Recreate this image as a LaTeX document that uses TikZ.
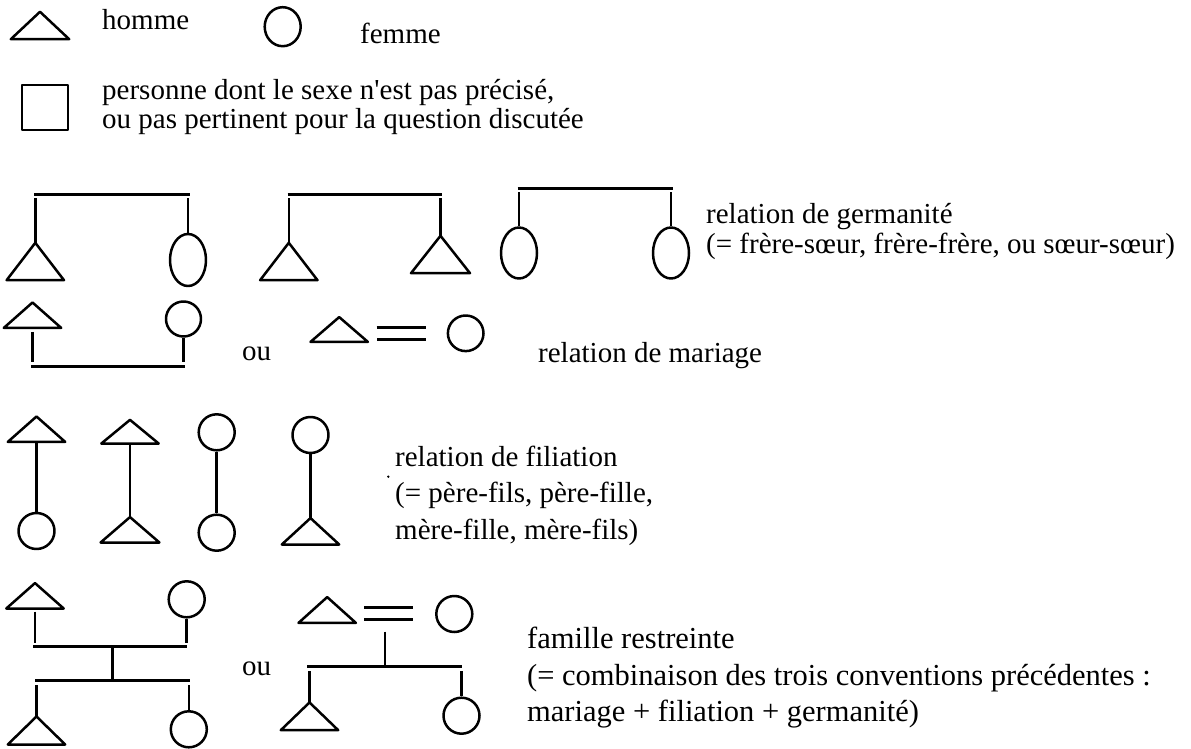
\documentclass[tikz,border=0pt]{standalone}
\usepackage{fontspec}
\newfontfamily\tnr{Liberation Serif}
\usetikzlibrary{shapes.geometric}
\tikzset{
  symline/.style={line width=2.5pt, line join=round},
  man/.style={rectangle, inner sep=0pt, minimum width=57pt, minimum height=26pt,
    append after command={\pgfextra{\let\mytn=\tikzlastnode
      \draw[symline] (\mytn.south west) -- (\mytn.north) -- (\mytn.south east) -- cycle;}}},
  woman/.style={circle, draw, symline, inner sep=0pt, minimum size=36pt},
  tallwoman/.style={ellipse, draw, symline, inner sep=0pt, minimum width=36pt, minimum height=51pt},
  link/.style={line width=2.6pt},
  bar/.style={line width=3pt},
  eq/.style={double, line width=2.6pt, double distance=9.4pt},
  lbl/.style={font=\tnr\fontsize{29}{34}\selectfont, inner sep=0pt, anchor=base west},
  biglbl/.style={lbl, font=\tnr\fontsize{30.5}{36}\selectfont}
}
\begin{document}
\begin{tikzpicture}[x=1pt,y=-1pt]
\useasboundingbox (0,0) rectangle (1191,749);
% legend
\node[man, minimum width=58pt, minimum height=27pt] (t0) at (40,25.5) {};
\node[lbl] (homme) at (102,30) {homme};
\node[ellipse, draw, symline, inner sep=0pt, minimum width=36pt, minimum height=39pt] (c0) at (282.7,26.7) {};
\node[lbl] (femme) at (360,44) {femme};
\node[rectangle, draw, symline, inner sep=0pt, minimum width=46pt, minimum height=45pt] (s0) at (45,107.5) {};
\node[lbl] (pers1) at (102,100) {personne dont le sexe n'est pas précisé,};
\node[lbl] (pers2) at (102,129) {ou pas pertinent pour la question discutée};

% germanite
\node[man, minimum height=37pt] (g1m) at (35.3,261.5) {};
\node[tallwoman, minimum height=52pt] (g1f) at (188,260) {};
\coordinate (g1l) at (34,194); \coordinate (g1r) at (189.5,194);
\draw[bar] (g1l) -- (g1r);
\draw[link, shorten >=4pt] (g1m.north) -- (g1m.north |- g1l);
\draw[link, shorten >=4pt] (g1f.north) -- (g1f.north |- g1l);

\node[man, minimum height=37pt] (g2a) at (288.8,261.5) {};
\node[man, minimum height=37pt, minimum width=58.6pt] (g2b) at (440.5,254.5) {};
\coordinate (g2l) at (287.5,194); \coordinate (g2r) at (442,194);
\draw[bar] (g2l) -- (g2r);
\draw[link, shorten >=4pt] (g2a.north) -- (g2a.north |- g2l);
\draw[link, shorten >=4pt] (g2b.north) -- (g2b.north |- g2l);

\node[tallwoman] (g3a) at (519,253) {};
\node[tallwoman] (g3b) at (671,253) {};
\coordinate (g3l) at (517.5,188); \coordinate (g3r) at (672.5,188);
\draw[bar] (g3l) -- (g3r);
\draw[link, shorten >=4pt] (g3a.north) -- (g3a.north |- g3l);
\draw[link, shorten >=4pt] (g3b.north) -- (g3b.north |- g3l);

\node[lbl] (germ1) at (706,223) {relation de germanité};
\node[lbl] (germ2) at (706,253) {(= frère-sœur, frère-frère, ou sœur-sœur)};

% mariage
\node[man, minimum height=25pt] (mm) at (32.5,315.2) {};
\node[woman, minimum size=35pt] (mf) at (183.5,319) {};
\coordinate (mbl) at (31,366); \coordinate (mbr) at (185,366);
\draw[bar] (mbl) -- (mbr);
\draw[link, shorten <=4pt, shorten >=4pt] (mm.south) -- (mm.south |- mbl);
\draw[link, shorten >=4pt] (mf.south) -- (mf.south |- mbr);
\node[lbl] (ou1) at (242,360) {ou};
\node[man, minimum height=24.4pt] (mm2) at (339.2,329.5) {};
\node[woman, minimum size=35.6pt] (mf2) at (465.7,333.3) {};
\coordinate (eql) at (376.7,333.3); \coordinate (eqr) at (425.7,333.3);
\draw[eq] (eql) -- (eqr);
\node[lbl] (mar) at (538,362) {relation de mariage};

% filiation
\node[man, minimum height=25pt] (fa1) at (36.5,429.2) {};
\node[woman] (fb1) at (36.5,531) {};
\draw[link] (fa1.south) -- (fb1.north);
\node[man, minimum height=23.3pt] (fa2) at (130,431.7) {};
\node[man, minimum height=25pt, minimum width=58.4pt] (fb2) at (130,529.8) {};
\draw[link] (fa2.south) -- (fb2.north);
\node[woman] (fa3) at (216.7,432.3) {};
\node[woman] (fb3) at (216.7,532.7) {};
\draw[link] (fa3.south) -- (fb3.north);
\node[woman] (fa4) at (310.5,435) {};
\node[man, minimum height=26pt] (fb4) at (310.5,531.3) {};
\draw[link] (fa4.south) -- (fb4.north);
\node[circle, fill, inner sep=0pt, minimum size=2.6pt] (dot) at (388.3,476.7) {};
\node[lbl] (fil1) at (395,466) {relation de filiation};
\node[lbl] (fil2) at (395,502) {(= père-fils, père-fille,};
\node[lbl] (fil3) at (395,539) {mère-fille, mère-fils)};

% famille (gauche)
\node[man, minimum height=25pt] (pa) at (35,595.8) {};
\node[woman] (ma) at (186.7,599.3) {};
\coordinate (tbl) at (33,646.7); \coordinate (tbr) at (186.5,646.7);
\draw[bar] (tbl) -- (tbr);
\draw[link, shorten <=3pt, shorten >=4pt] (pa.south) -- (pa.south |- tbl);
\draw[link, shorten >=4pt] (ma.south) -- (ma.south |- tbr);
\coordinate (mid1) at (112.7,646.7); \coordinate (mid2) at (112.7,680.7);
\draw[link] (mid1) -- (mid2);
\coordinate (bbl) at (35,680.7); \coordinate (bbr) at (190,680.7);
\draw[bar] (bbl) -- (bbr);
\node[man, minimum height=27.6pt] (ka) at (36.5,730.5) {};
\node[woman] (kb) at (188.8,729.3) {};
\draw[link, shorten >=4pt] (ka.north) -- (ka.north |- bbl);
\draw[link, shorten >=4pt] (kb.north) -- (kb.north |- bbr);
\node[lbl] (ou2) at (242,675) {ou};

% famille (droite)
\node[man, minimum height=25.4pt] (pb) at (327.2,610) {};
\node[woman] (mb) at (454.3,614) {};
\coordinate (eq2l) at (364,613.7); \coordinate (eq2r) at (412.7,613.7);
\draw[eq] (eq2l) -- (eq2r);
\coordinate (dv1) at (385,631.7); \coordinate (dv2) at (385,666.7);
\draw[link] (dv1) -- (dv2);
\coordinate (rbl) at (307,666.7); \coordinate (rbr) at (462,666.7);
\draw[bar] (rbl) -- (rbr);
\node[man, minimum height=27.3pt] (kc) at (309.5,716.3) {};
\node[woman] (kd) at (461.5,715.7) {};
\draw[link, shorten >=4pt] (kc.north) -- (kc.north |- rbl);
\draw[link, shorten >=4pt] (kd.north) -- (kd.north |- rbr);

\node[biglbl] (fam1) at (527,648) {famille restreinte};
\node[biglbl] (fam2) at (527,685) {(= combinaison des trois conventions précédentes :};
\node[biglbl] (fam3) at (527,721) {mariage + filiation + germanité)};
\end{tikzpicture}
\end{document}
